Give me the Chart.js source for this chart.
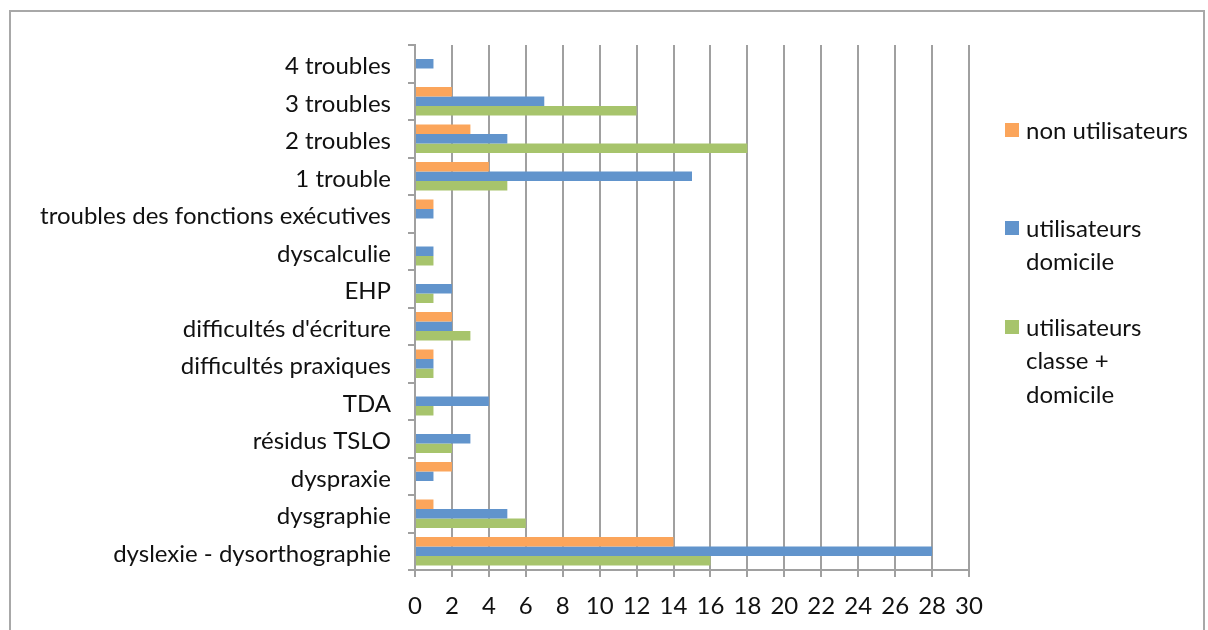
<!DOCTYPE html>
<html>
<head>
<meta charset="utf-8">
<script src="https://cdn.jsdelivr.net/npm/chart.js@4"></script>
<style>
  body { margin: 0; background: #fff; }
  #wrap { position: relative; width: 1208px; height: 630px; overflow: hidden; }
  #frame { position: absolute; left: 9px; top: 10px; width: 1192px; height: 700px; border: 2px solid #a8a8a8; }
  canvas { position: absolute; left: 0; top: 0; }
</style>
</head>
<body>
<div id="wrap">
  <div id="frame"></div>
  <canvas id="bar-chart" width="1208" height="630"></canvas>
</div>
<script>
const categories = [
    "4 troubles",
    "3 troubles",
    "2 troubles",
    "1 trouble",
    "troubles des fonctions exécutives",
    "dyscalculie",
    "EHP",
    "difficultés d'écriture",
    "difficultés praxiques",
    "TDA",
    "résidus TSLO",
    "dyspraxie",
    "dysgraphie",
    "dyslexie - dysorthographie"
];
const nonUtilisateurs    = [0, 2, 3, 4, 1, 0, 0, 2, 1, 0, 0, 2, 1, 14];
const utilDomicile       = [1, 7, 5, 15, 1, 1, 2, 2, 1, 4, 3, 1, 5, 28];
const utilClasseDomicile = [0, 12, 18, 5, 0, 1, 1, 3, 1, 1, 2, 0, 6, 16];
const xMin = 0, xMax = 30, xStep = 2;

const seriesLabels = [
    ["non utilisateurs"],
    ["utilisateurs", "domicile"],
    ["utilisateurs", "classe +", "domicile"]
];
const colors = ["#fba55b", "#6194cc", "#a7c46c"];
const gridGray = "#a0a0a0";
const font = "Lato";
const fontSize = 24;

// legend drawn by hand so the labels can wrap like the original
const sideLegend = {
    id: 'sideLegend',
    afterDraw(chart) {
        const ctx = chart.ctx;
        const tops = [130, 228, 327];
        ctx.save();
        ctx.font = fontSize + "px " + font;
        ctx.textBaseline = "middle";
        ctx.textAlign = "left";
        seriesLabels.forEach((lines, i) => {
            ctx.fillStyle = colors[i];
            ctx.fillRect(1005, tops[i] - 7, 14, 14);
            ctx.fillStyle = "#111";
            lines.forEach((t, j) => ctx.fillText(t, 1026, tops[i] + 1 + j * 33.5));
        });
        ctx.restore();
    }
};

const ctx = document.getElementById('bar-chart').getContext('2d');
new Chart(ctx, {
    type: 'bar',
    data: {
        labels: categories,
        datasets: [
            { label: seriesLabels[0].join(" "), data: nonUtilisateurs, backgroundColor: colors[0] },
            { label: seriesLabels[1].join(" "), data: utilDomicile, backgroundColor: colors[1] },
            { label: seriesLabels[2].join(" "), data: utilClasseDomicile, backgroundColor: colors[2] }
        ]
    },
    options: {
        indexAxis: 'y',
        responsive: false,
        animation: false,
        barPercentage: 1,
        categoryPercentage: 0.76,
        layout: { padding: { top: 45, right: 239, left: 0, bottom: 0 } },
        plugins: {
            legend: { display: false },
            tooltip: { enabled: false }
        },
        scales: {
            x: {
                min: xMin,
                max: xMax,
                ticks: {
                    stepSize: xStep,
                    color: "#111",
                    padding: 15,
                    font: { family: font, size: fontSize }
                },
                grid: { color: gridGray, lineWidth: 2, tickLength: 7 },
                border: { color: gridGray, width: 2 },
                afterFit(scale) { scale.height = 60; }
            },
            y: {
                ticks: {
                    color: "#111",
                    padding: 17,
                    labelOffset: 3,
                    font: { family: font, size: fontSize }
                },
                grid: { drawOnChartArea: false, color: gridGray, lineWidth: 2, tickLength: 7, offset: true },
                border: { color: gridGray, width: 2 },
                afterFit(scale) { scale.width = 415; }
            }
        }
    },
    plugins: [sideLegend]
});
</script>
</body>
</html>
